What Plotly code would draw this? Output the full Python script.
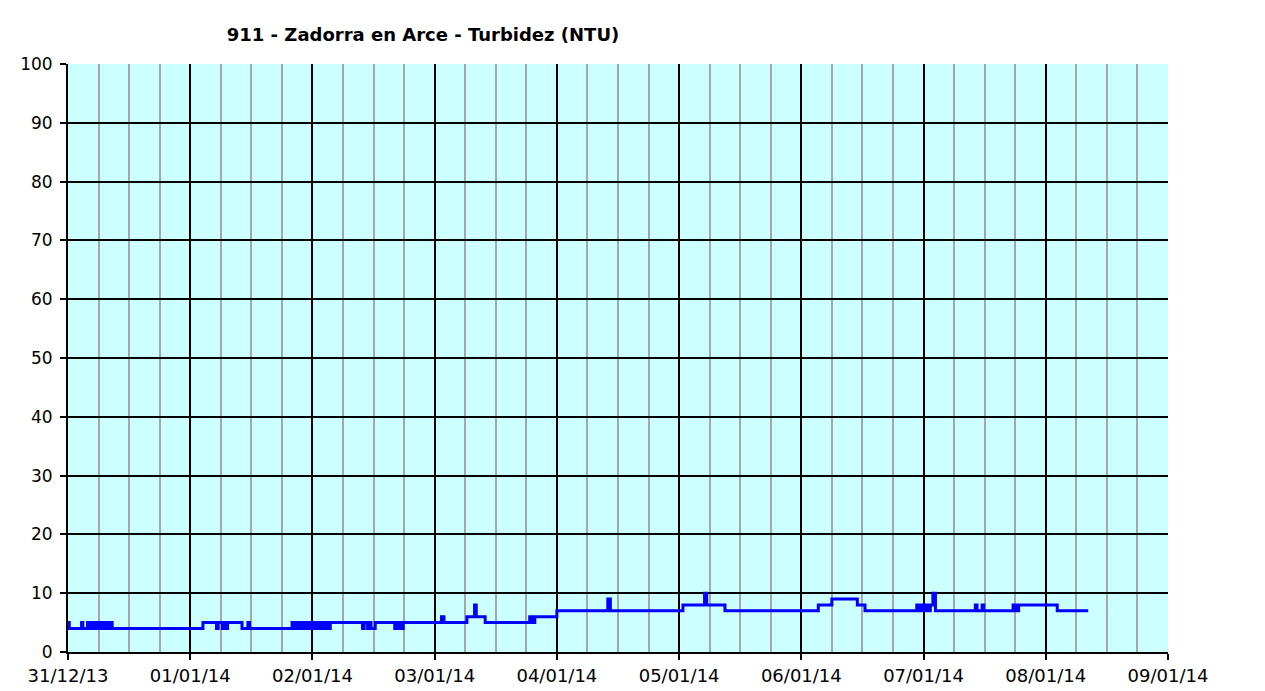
import plotly.graph_objects as go

title_text = "911 - Zadorra en Arce - Turbidez (NTU)"

# Step breakpoints (time, NTU); drawn with a horizontal-vertical step line
times = [
    "2013-12-31 00:00", "2013-12-31 00:15", "2013-12-31 02:40", "2013-12-31 02:55",
    "2013-12-31 03:50", "2013-12-31 04:05", "2013-12-31 04:40", "2013-12-31 05:00",
    "2013-12-31 05:10", "2013-12-31 05:30", "2013-12-31 05:40", "2013-12-31 06:00",
    "2013-12-31 06:10", "2013-12-31 06:30", "2013-12-31 06:40", "2013-12-31 07:00",
    "2013-12-31 07:10", "2013-12-31 07:30", "2013-12-31 07:40", "2013-12-31 08:00",
    "2013-12-31 08:10", "2013-12-31 08:40",
    "2014-01-01 02:30", "2014-01-01 05:10", "2014-01-01 05:30", "2014-01-01 06:20",
    "2014-01-01 06:40", "2014-01-01 07:00", "2014-01-01 07:20", "2014-01-01 10:10",
    "2014-01-01 11:20", "2014-01-01 11:40",
    "2014-01-01 20:00", "2014-01-01 20:15", "2014-01-01 20:40", "2014-01-01 20:55",
    "2014-01-01 21:20", "2014-01-01 21:35", "2014-01-01 22:00", "2014-01-01 22:15",
    "2014-01-01 22:40", "2014-01-01 22:55", "2014-01-01 23:30", "2014-01-01 23:45",
    "2014-01-02 00:20", "2014-01-02 00:35", "2014-01-02 01:00", "2014-01-02 01:15",
    "2014-01-02 01:50", "2014-01-02 02:05", "2014-01-02 02:40", "2014-01-02 02:55",
    "2014-01-02 03:30",
    "2014-01-02 09:50", "2014-01-02 10:10", "2014-01-02 10:50", "2014-01-02 11:10",
    "2014-01-02 11:30", "2014-01-02 12:20",
    "2014-01-02 16:10", "2014-01-02 16:30", "2014-01-02 16:50", "2014-01-02 17:10",
    "2014-01-02 17:30", "2014-01-02 17:50", "2014-01-02 18:10",
    "2014-01-03 01:20", "2014-01-03 01:50",
    "2014-01-03 06:20", "2014-01-03 07:50", "2014-01-03 08:10", "2014-01-03 09:55",
    "2014-01-03 18:40", "2014-01-03 18:55", "2014-01-03 19:10", "2014-01-03 19:25",
    "2014-01-03 19:40",
    "2014-01-04 00:00", "2014-01-04 10:00", "2014-01-04 10:30",
    "2014-01-05 00:45", "2014-01-05 05:00", "2014-01-05 05:25", "2014-01-05 09:00",
    "2014-01-06 03:20", "2014-01-06 06:00", "2014-01-06 11:00", "2014-01-06 12:30",
    "2014-01-06 22:40", "2014-01-06 22:55", "2014-01-06 23:05", "2014-01-06 23:25",
    "2014-01-06 23:40", "2014-01-07 00:00", "2014-01-07 00:20", "2014-01-07 00:35",
    "2014-01-07 00:50", "2014-01-07 01:05", "2014-01-07 01:20", "2014-01-07 01:50",
    "2014-01-07 02:20",
    "2014-01-07 10:10", "2014-01-07 10:30", "2014-01-07 11:30", "2014-01-07 11:50",
    "2014-01-07 17:35", "2014-01-07 17:50", "2014-01-07 18:05", "2014-01-07 18:20",
    "2014-01-07 18:40",
    "2014-01-08 02:15", "2014-01-08 08:20",
]
ntu = [
    5, 4, 5, 4,
    5, 4, 5, 4,
    5, 4, 5, 4,
    5, 4, 5, 4,
    5, 4, 5, 4,
    5, 4,
    5, 4, 5, 4,
    5, 4, 5, 4,
    5, 4,
    5, 4, 5, 4,
    5, 4, 5, 4,
    5, 4, 5, 4,
    5, 4, 5, 4,
    5, 4, 5, 4,
    5,
    4, 5, 4, 5,
    4, 5,
    4, 5, 4, 5,
    4, 5, 5,
    6, 5,
    6, 8, 6, 5,
    6, 5, 6, 5,
    6,
    7, 9, 7,
    8, 10, 8, 7,
    8, 9, 8, 7,
    8, 7, 8, 7,
    8, 7, 8, 7,
    8, 7, 8, 10,
    7,
    8, 7, 8, 7,
    8, 7, 8, 7,
    8,
    7, 7,
]

x_range = ["2013-12-31 00:00", "2014-01-09 00:00"]
y_range = [0, 100]

fig = go.Figure()
fig.add_trace(go.Scatter(
    x=times, y=ntu, mode="lines",
    line=dict(color="#0000ff", width=3, shape="hv"),
    showlegend=False, hoverinfo="x+y",
))

font_family = "DejaVu Sans, Verdana, sans-serif"

fig.update_layout(
    width=1265, height=691,
    margin=dict(l=60, r=105, t=56, b=47, pad=0),
    paper_bgcolor="#ffffff",
    plot_bgcolor="#ccffff",
    font=dict(family=font_family, size=17, color="#000000"),
    title=dict(
        text="<b>" + title_text + "</b>",
        x=(423 - 68) / 1100, xref="paper", xanchor="center",
        y=1 - 27 / 691, yref="container", yanchor="middle",
        font=dict(family=font_family, size=18, color="#000000"),
    ),
    xaxis=dict(
        type="date", range=x_range,
        dtick=86400000, tick0="2013-12-31",
        tickformat="%d/%m/%y",
        showgrid=True, gridcolor="#000000", gridwidth=2,
        ticks="outside", ticklen=6, tickwidth=2, tickcolor="#000000",
        showline=True, linecolor="#000000", linewidth=2,
        minor=dict(dtick=6 * 3600000, showgrid=True, gridcolor="#a6a6a6", gridwidth=2),
        zeroline=False,
        tickfont=dict(size=18),
    ),
    yaxis=dict(
        range=y_range, dtick=10,
        showgrid=True, gridcolor="#000000", gridwidth=2,
        ticks="outside", ticklen=6, tickwidth=2, tickcolor="#000000",
        showline=True, linecolor="#000000", linewidth=2,
        zeroline=False, ticklabelstandoff=4,
        tickfont=dict(size=17),
    ),
)

fig.write_html("out.html")
